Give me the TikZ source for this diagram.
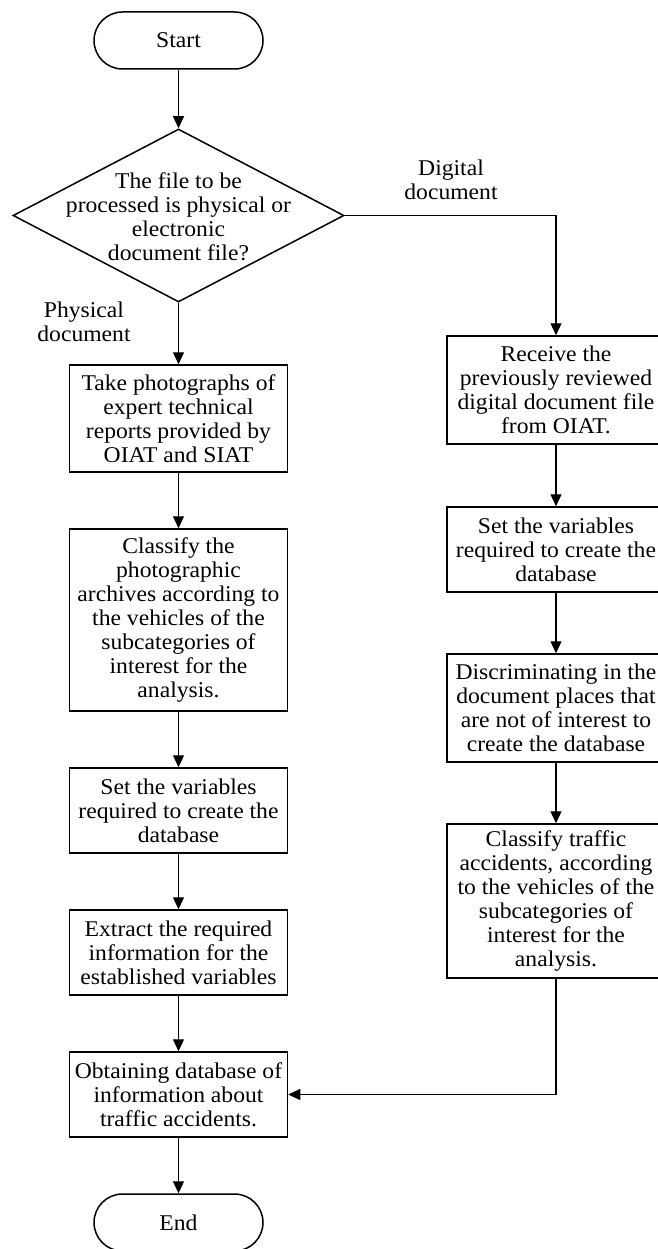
\documentclass[tikz,border=0pt]{standalone}
\usepackage{fontspec}
\setmainfont{Liberation Serif}[FakeStretch=1.05]
\usetikzlibrary{arrows.meta, shapes.geometric}

\begin{document}
\begin{tikzpicture}[x=1pt, y=-1pt,
    every node/.style={font=\fontsize{22.5}{24}\selectfont, align=center},
    term/.style={draw, line width=1.5pt, rounded corners=28.5pt, minimum width=169pt, minimum height=57pt, inner sep=0pt},
    proc/.style={draw, line width=1.5pt, minimum width=218pt, inner sep=0pt},
    decision/.style={draw, diamond, line width=1.5pt, minimum width=331pt, minimum height=173pt, inner sep=0pt},
    arr/.style={-{Triangle[length=12pt, width=11pt]}, line width=1.2pt}]
    \useasboundingbox (0,0) rectangle (657,1249);

    % Start and decision
    \node[term] (start) at (178.5,40.5) {Start};
    \node[decision] (dec) at (178.5,215.5) {};
    \node (dectext) at (178.5,217) {The file to be\\processed is physical or\\electronic\\document file?};
    \node (lbldig) at (451,180) {Digital\\document};
    \node (lblphy) at (84,322) {Physical\\document};

    % Left branch: physical document
    \node[proc, minimum height=107pt] (take) at (178.5,418.5) {Take photographs of\\expert technical\\reports provided by\\OIAT and SIAT};
    \node[proc, minimum height=182pt] (classL) at (178.5,620) {Classify the\\photographic\\archives according to\\the vehicles of the\\subcategories of\\interest for the\\analysis.};
    \node[proc, minimum height=85pt] (setL) at (178.5,810.5) {Set the variables\\required to create the\\database};
    \node[proc, minimum height=85pt] (extract) at (178.5,952.5) {Extract the required\\information for the\\established variables};
    \node[proc, minimum height=85pt] (obtain) at (178.5,1094.5) {Obtaining database of\\information about\\traffic accidents.};
    \node[term] (end) at (178.5,1222.5) {End};

    % Right branch: digital document
    \node[proc, minimum height=108pt] (receive) at (556,390) {Receive the\\previously reviewed\\digital document file\\from OIAT.};
    \node[proc, minimum height=85pt] (setR) at (556,549.5) {Set the variables\\required to create the\\database};
    \node[proc, minimum height=108pt] (discr) at (556,708) {Discriminating in the\\document places that\\are not of interest to\\create the database};
    \node[proc, minimum height=154pt] (classR) at (556,901) {Classify traffic\\accidents, according\\to the vehicles of the\\subcategories of\\interest for the\\analysis.};

    % Connectors
    \draw[arr] (start) -- (dec);
    \draw[arr] (dec) -- (take);
    \draw[arr] (dec.east) -| (receive);
    \draw[arr] (take) -- (classL);
    \draw[arr] (classL) -- (setL);
    \draw[arr] (setL) -- (extract);
    \draw[arr] (extract) -- (obtain);
    \draw[arr] (obtain) -- (end);
    \draw[arr] (receive) -- (setR);
    \draw[arr] (setR) -- (discr);
    \draw[arr] (discr) -- (classR);
    \draw[arr] (classR.south) |- (obtain.east);
\end{tikzpicture}
\end{document}
